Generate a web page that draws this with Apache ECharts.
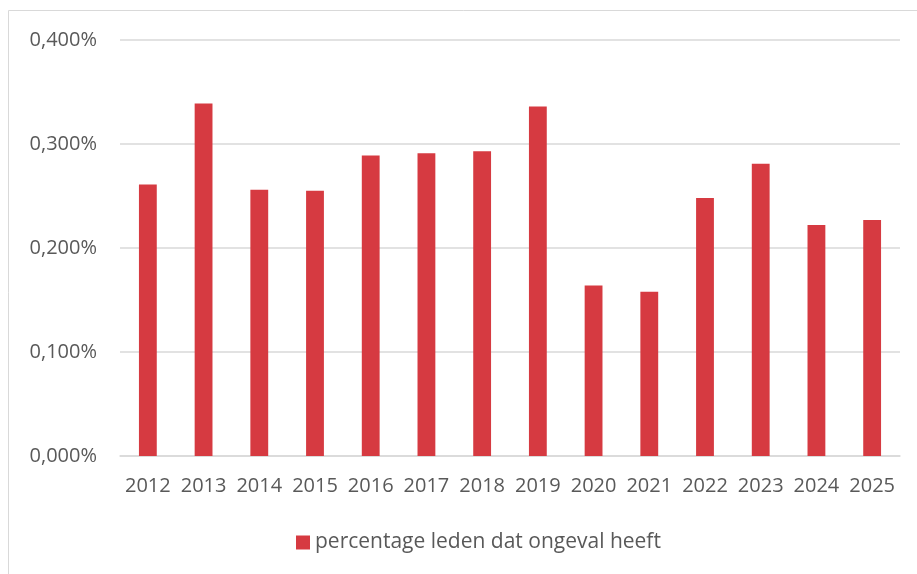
<!DOCTYPE html>
<html>
<head>
<meta charset="utf-8">
<script src="https://cdn.jsdelivr.net/npm/echarts@6/dist/echarts.min.js"></script>
<style>
html, body { margin: 0; padding: 0; background: #fff; }
#chart { width: 917px; height: 574px; }
</style>
</head>
<body>
<div id="chart"></div>
<script>
var years = ['2012', '2013', '2014', '2015', '2016', '2017', '2018', '2019', '2020', '2021', '2022', '2023', '2024', '2025'];
// percentage leden dat ongeval heeft (in %)
var percentages = [0.261, 0.339, 0.256, 0.255, 0.289, 0.291, 0.293, 0.336, 0.164, 0.158, 0.248, 0.281, 0.222, 0.227];
var yTicks = [0, 0.1, 0.2, 0.3, 0.4];

var seriesName = 'percentage leden dat ongeval heeft';
var textColor = '#595959';
var fontFam = '"Open Sans", sans-serif';

var chart = echarts.init(document.getElementById('chart'));
var option = {
    animation: false,
    graphic: [{
        type: 'rect',
        shape: { x: 8.5, y: 10.5, width: 920, height: 580 },
        style: { fill: 'none', stroke: '#d9d9d9', lineWidth: 1 }
    }],
    grid: {
        left: 120,
        right: 17,
        top: 40,
        bottom: 118
    },
    legend: {
        left: 291,
        top: 527,
        itemWidth: 14,
        itemHeight: 14,
        itemGap: 6,
        icon: 'rect',
        textStyle: { color: textColor, fontSize: 21, fontFamily: fontFam },
        data: [seriesName]
    },
    xAxis: {
        type: 'category',
        data: years,
        axisTick: { show: false },
        axisLine: { lineStyle: { color: '#d9d9d9', width: 1.5 } },
        axisLabel: { color: textColor, fontSize: 20, fontFamily: fontFam, margin: 20, interval: 0 }
    },
    yAxis: {
        type: 'value',
        min: yTicks[0],
        max: yTicks[yTicks.length - 1],
        interval: 0.1,
        axisLine: { show: false },
        axisTick: { show: false },
        splitLine: { lineStyle: { color: '#d9d9d9', width: 1.5 } },
        axisLabel: {
            color: textColor,
            fontSize: 20,
            fontFamily: fontFam,
            margin: 23,
            formatter: function (v) { return v.toFixed(3).replace('.', ',') + '%'; }
        }
    },
    series: [{
        name: seriesName,
        type: 'bar',
        data: percentages,
        barWidth: '32%',
        itemStyle: { color: '#d63a41' }
    }]
};
chart.setOption(option);
</script>
</body>
</html>
